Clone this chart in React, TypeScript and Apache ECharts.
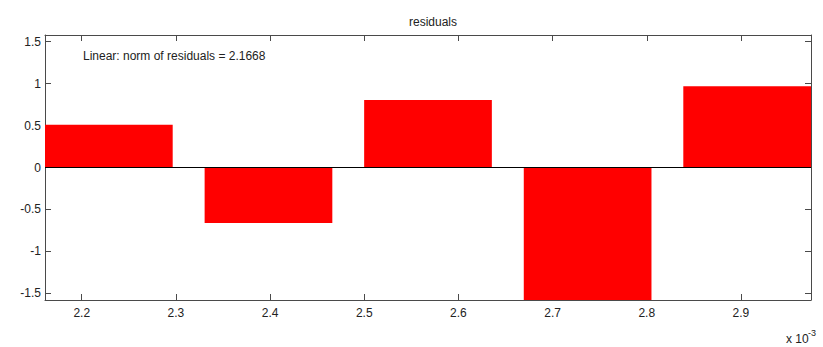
import React, { useEffect, useRef } from "react";
import * as echarts from "echarts";

// x positions (in units of 1e-3) and residual values
const xValues = [2.2288, 2.3983, 2.5677, 2.7372, 2.9066];
const residuals = [0.51, -0.663, 0.805, -1.58, 0.969];
const yLimit = 1.58;
const titleText = "residuals";
const noteText = "Linear: norm of residuals = 2.1668";
const scaleBase = "x 10";
const scaleExp = "-3";

const BAR_WIDTH = 0.8 * (xValues[1] - xValues[0]);
const X_MIN = xValues[0] - BAR_WIDTH / 2;
const X_MAX = xValues[xValues.length - 1] + BAR_WIDTH / 2;

const FONT = "'Liberation Sans', Arial, sans-serif";
const AXIS_COLOR = "#4a4a4a";
const TEXT_COLOR = "#222";

export default function App() {
  const ref = useRef<HTMLDivElement>(null);
  useEffect(() => {
    if (!ref.current) return;
    const chart = echarts.init(ref.current, null, { renderer: "svg" });
    const data = xValues.map((x, i) => [x, residuals[i]]);
    const axisBase = {
      type: "value" as const,
      axisLine: { show: true, onZero: false, lineStyle: { color: AXIS_COLOR, width: 1 } },
      axisTick: { show: true, inside: true, length: 6, lineStyle: { color: AXIS_COLOR } },
      splitLine: { show: false },
    };
    chart.setOption({
      animation: false,
      backgroundColor: "#fff",
      title: {
        text: titleText,
        left: 428,
        textAlign: "center",
        top: 11,
        textStyle: { fontFamily: FONT, fontSize: 12, fontWeight: "normal", color: TEXT_COLOR },
      },
      grid: { left: 45, right: 12, top: 35, bottom: 47, containLabel: false },
      xAxis: [
        {
          ...axisBase,
          position: "bottom",
          min: X_MIN,
          max: X_MAX,
          splitNumber: 8,
          axisLabel: {
            show: true,
            showMinLabel: false,
            showMaxLabel: false,
            margin: 7,
            color: TEXT_COLOR,
            fontFamily: FONT,
            fontSize: 12,
            formatter: (v: number) => v.toFixed(1),
          },
        },
        {
          ...axisBase,
          position: "top",
          min: X_MIN,
          max: X_MAX,
          splitNumber: 8,
          axisLabel: { show: false },
        },
      ],
      yAxis: [
        {
          ...axisBase,
          position: "left",
          min: -yLimit,
          max: yLimit,
          splitNumber: 6,
          axisLabel: {
            show: true,
            showMinLabel: false,
            showMaxLabel: false,
            margin: 4,
            color: TEXT_COLOR,
            fontFamily: FONT,
            fontSize: 12,
            formatter: (v: number) => String(Math.round(v * 10) / 10),
          },
        },
        {
          ...axisBase,
          position: "right",
          min: -yLimit,
          max: yLimit,
          splitNumber: 6,
          axisLabel: { show: false },
        },
      ],
      graphic: [
        {
          type: "text",
          left: 83,
          top: 50,
          style: {
            text: noteText,
            fill: TEXT_COLOR,
            font: `12px ${FONT}`,
          },
        },
        {
          type: "text",
          left: 786,
          top: 333,
          style: {
            text: scaleBase,
            fill: TEXT_COLOR,
            font: `12px ${FONT}`,
          },
        },
        {
          type: "text",
          left: 808,
          top: 328,
          style: {
            text: scaleExp,
            fill: TEXT_COLOR,
            font: `9px ${FONT}`,
          },
        },
      ],
      series: [
        {
          type: "custom",
          xAxisIndex: 0,
          yAxisIndex: 0,
          clip: true,
          data,
          encode: { x: 0, y: 1 },
          renderItem: (params: any, api: any) => {
            const x = api.value(0);
            const y = api.value(1);
            const p0 = api.coord([x - BAR_WIDTH / 2, y]);
            const p1 = api.coord([x + BAR_WIDTH / 2, 0]);
            return {
              type: "rect",
              shape: {
                x: p0[0],
                y: Math.min(p0[1], p1[1]),
                width: p1[0] - p0[0],
                height: Math.abs(p1[1] - p0[1]),
              },
              style: { fill: "#ff0000" },
            };
          },
          markLine: {
            silent: true,
            symbol: ["none", "none"],
            label: { show: false },
            lineStyle: { color: "#000", width: 1, type: "solid" },
            data: [{ yAxis: 0 }],
          },
        },
      ],
    });
    return () => chart.dispose();
  }, []);
  return (
    <div
      ref={ref}
      style={{ position: "fixed", left: 0, top: 0, width: 823, height: 347 }}
    />
  );
}
